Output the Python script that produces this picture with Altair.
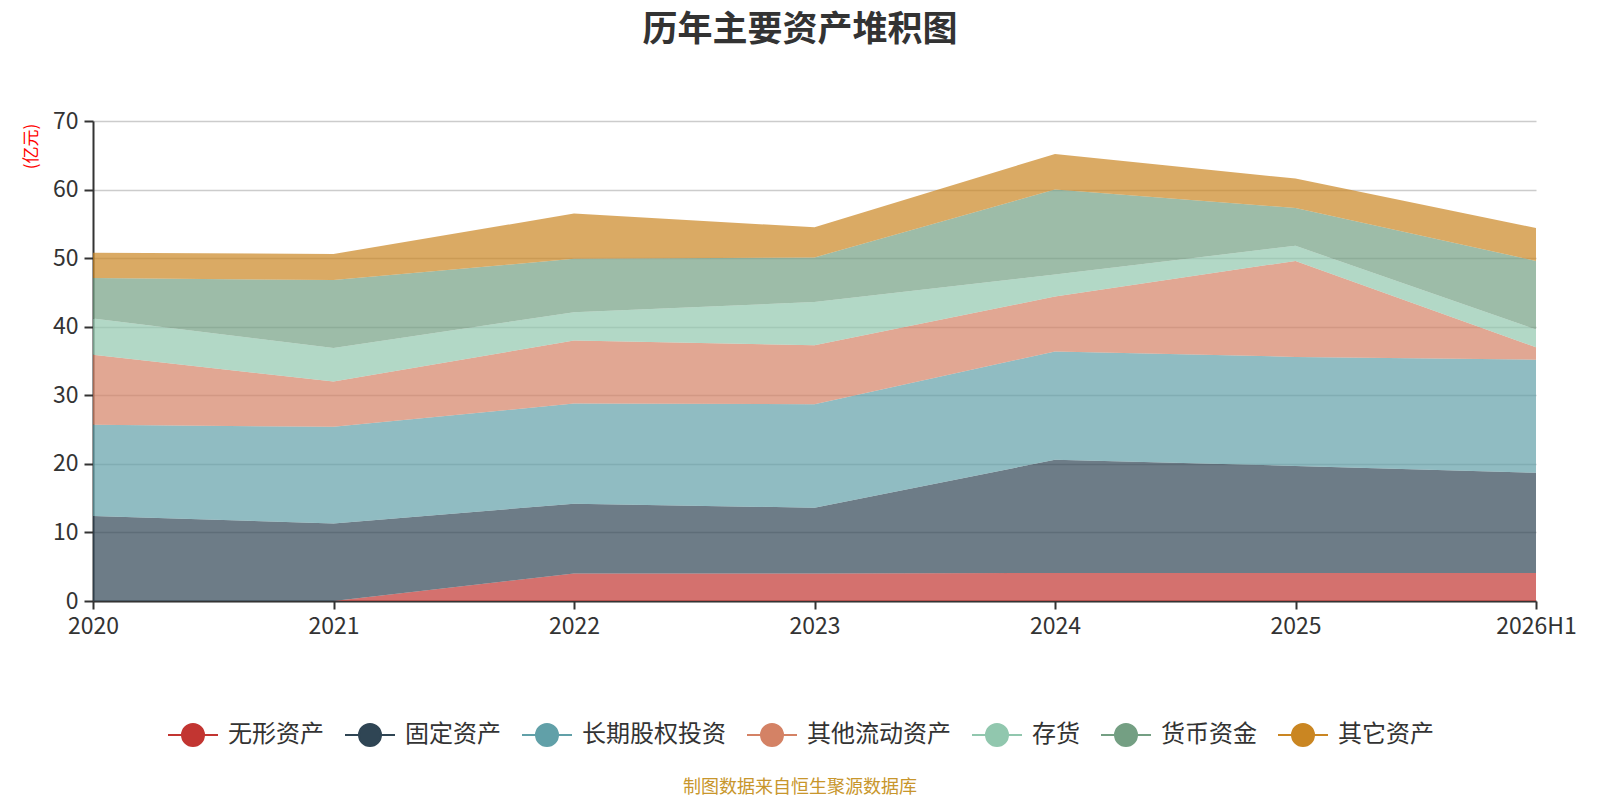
import altair as alt
import pandas as pd

years = ["2020", "2021", "2022", "2023", "2024", "2025", "2026H1"]
series = ["无形资产", "固定资产", "长期股权投资", "其他流动资产", "存货", "货币资金", "其它资产"]
colors = ["#c23531", "#2f4554", "#61a0a8", "#d48265", "#91c7ae", "#749f83", "#ca8622"]

intangible = [0.0, 0.0, 4.0, 4.0, 4.1, 4.1, 4.1]
fixed_assets = [12.4, 11.3, 10.2, 9.6, 16.5, 15.6, 14.6]
lt_equity = [13.3, 14.1, 14.6, 15.1, 15.8, 15.9, 16.5]
other_current = [10.2, 6.6, 9.2, 8.6, 8.0, 14.0, 1.8]
inventory = [5.3, 4.9, 4.1, 6.3, 3.2, 2.2, 2.6]
cash = [5.9, 9.9, 7.8, 6.5, 12.4, 5.5, 10.0]
other_assets = [3.7, 3.8, 6.6, 4.4, 5.2, 4.3, 4.8]

all_values = [intangible, fixed_assets, lt_equity, other_current, inventory, cash, other_assets]

rows = []
for i, (name, vals) in enumerate(zip(series, all_values)):
    for y, v in zip(years, vals):
        rows.append({"year": y, "series": name, "value": v, "ord": i})
df = pd.DataFrame(rows)

FONT = "Noto Sans CJK SC"
symbol_path = "M-1,0L1,0M0.44,0A0.44,0.44,0,1,1,-0.44,0A0.44,0.44,0,1,1,0.44,0Z"

legend = alt.Legend(title=None, orient="none", direction="horizontal",
                    legendX=74, legendY=588,
                    symbolType=symbol_path, symbolSize=2500,
                    symbolStrokeWidth=2, symbolOpacity=1,
                    labelFontSize=24, labelColor="#333", labelFont=FONT,
                    labelOffset=9, columnPadding=17)

areas = alt.Chart(df).mark_area(fillOpacity=0.7, strokeWidth=0).encode(
    x=alt.X("year:O", sort=years, scale=alt.Scale(type="point", padding=0),
            axis=alt.Axis(title=None, labelAngle=0, grid=False, tickSize=8,
                          labelPadding=6, labelFontSize=23, labelColor="#333",
                          domainColor="#333", domainWidth=2, tickColor="#333",
                          tickWidth=2, labelFont=FONT)),
    y=alt.Y("value:Q", stack="zero", scale=alt.Scale(domain=[0, 70], nice=False),
            axis=alt.Axis(title="(亿元)", values=[0, 10, 20, 30, 40, 50, 60, 70],
                          titleColor="red", titleFontSize=17, titleFontWeight="normal",
                          titleFont=FONT, titleAngle=270, titleX=-62, titleY=25,
                          titleAlign="center", titleBaseline="middle",
                          labelFontSize=23, labelColor="#333", labelFont=FONT,
                          tickSize=9, tickWidth=2, tickColor="#333", labelPadding=6,
                          domainColor="#333", domainWidth=2,
                          gridColor="#cccccc", gridWidth=1.5)),
    color=alt.Color("series:N", scale=alt.Scale(domain=series, range=colors), legend=legend),
    stroke=alt.Stroke("series:N", scale=alt.Scale(domain=series, range=colors), legend=legend),
    order=alt.Order("ord:Q", sort="ascending"),
)

title_df = pd.DataFrame({"t": ["历年主要资产堆积图"]})
title = alt.Chart(title_df).mark_text(fontSize=35, fontWeight="bold", color="#333",
                                      font=FONT, baseline="middle", align="center").encode(
    x=alt.value(707), y=alt.value(-91), text="t:N")

foot_df = pd.DataFrame({"t": ["制图数据来自恒生聚源数据库"]})
footer = alt.Chart(foot_df).mark_text(fontSize=18, color="#c8962c", font=FONT,
                                      baseline="middle", align="center").encode(
    x=alt.value(707), y=alt.value(667), text="t:N")

chart = alt.layer(areas, title, footer).properties(
    width=1443, height=480,
    autosize=alt.AutoSizeParams(type="none"),
    padding={"left": 85, "top": 113, "right": 50, "bottom": 199},
).configure(font=FONT).configure_view(stroke=None)

chart.save("out.html", embed_options={"renderer": "svg", "actions": False})
